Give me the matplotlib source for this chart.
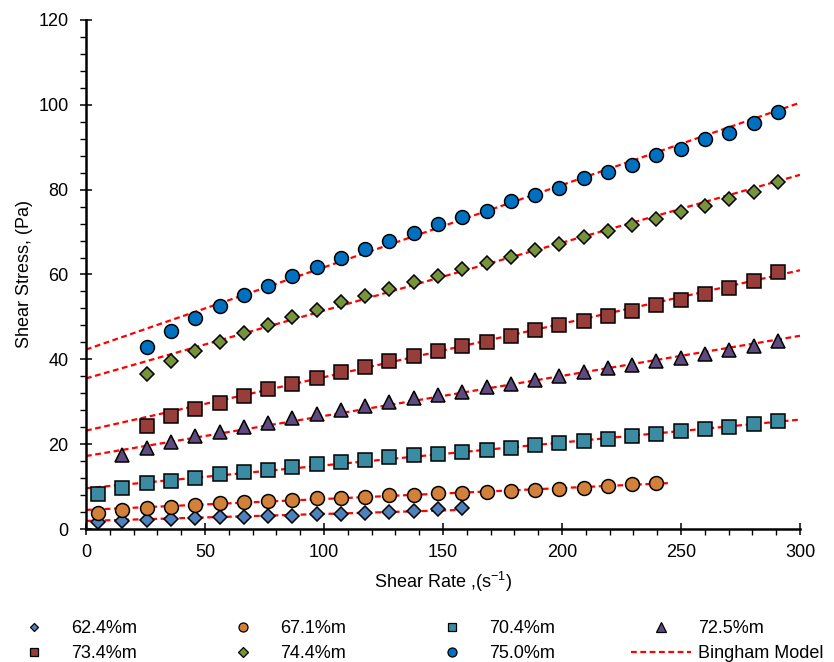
import matplotlib
matplotlib.use("Agg")
import matplotlib.pyplot as plt
from matplotlib.lines import Line2D
from matplotlib.ticker import MultipleLocator

plt.rcParams["font.family"] = ["Liberation Sans", "DejaVu Sans"]
plt.rcParams["mathtext.fontset"] = "custom"
plt.rcParams["mathtext.rm"] = "Liberation Sans"

# shear rates (s^-1)
rates = [5.1, 15.3, 25.5, 35.7, 45.9, 56.1, 66.3, 76.5, 86.7, 96.9,
         107.1, 117.3, 127.5, 137.7, 147.9, 158.1, 168.3, 178.5, 188.7, 198.9,
         209.1, 219.3, 229.5, 239.7, 249.9, 260.1, 270.3, 280.5, 290.7]

# shear stress (Pa) per concentration
s624 = [1.7, 2.0, 2.1, 2.4, 2.5, 2.8, 2.9, 3.1, 3.1, 3.5, 3.5, 3.8, 4.1, 4.2, 4.6, 4.9]
s671 = [3.7, 4.5, 4.9, 5.3, 5.7, 6.1, 6.4, 6.6, 6.8, 7.2, 7.3, 7.6, 7.9, 8.1, 8.4, 8.6,
        8.8, 9.0, 9.2, 9.5, 9.7, 10.1, 10.5, 10.9]
s704 = [8.3, 9.7, 10.8, 11.4, 12.1, 12.9, 13.4, 13.9, 14.7, 15.3, 15.8, 16.3, 16.9, 17.4,
        17.8, 18.1, 18.6, 19.2, 19.7, 20.2, 20.7, 21.3, 21.9, 22.4, 23.0, 23.6, 24.1, 24.8, 25.4]
s725 = [17.4, 19.2, 20.6, 21.9, 22.9, 24.1, 25.1, 26.1, 27.0, 28.1, 29.0, 30.0, 30.8, 31.6,
        32.4, 33.4, 34.3, 35.2, 36.1, 37.0, 37.9, 38.7, 39.5, 40.2, 41.2, 42.2, 43.1, 44.4]
s734 = [24.4, 26.6, 28.2, 29.8, 31.4, 32.9, 34.1, 35.5, 36.9, 38.1, 39.5, 40.8, 42.0, 43.1,
        44.2, 45.5, 46.8, 48.1, 49.1, 50.3, 51.5, 52.8, 54.0, 55.3, 56.8, 58.5, 60.5]
s744 = [36.5, 39.7, 42.0, 44.2, 46.3, 48.1, 49.9, 51.6, 53.4, 54.9, 56.5, 58.2, 59.6, 61.2,
        62.7, 64.1, 65.7, 67.3, 68.8, 70.3, 71.7, 73.1, 74.7, 76.2, 77.9, 79.4, 81.9]
s750 = [42.8, 46.7, 49.8, 52.6, 55.1, 57.4, 59.7, 61.8, 64.0, 66.0, 68.0, 69.9, 71.8, 73.6,
        75.0, 77.3, 78.8, 80.3, 82.7, 84.2, 85.7, 88.1, 89.6, 91.9, 93.4, 95.8, 98.2]

labels = ["62.4%m", "67.1%m", "70.4%m", "72.5%m", "73.4%m", "74.4%m", "75.0%m"]
stresses = [s624, s671, s704, s725, s734, s744, s750]
first_idx = [0, 0, 0, 1, 2, 2, 2]

# Bingham fit: yield stress (Pa), plastic viscosity (Pa.s), fitted range end (s^-1)
yield_stress = [1.9, 4.5, 9.6, 17.2, 23.2, 35.5, 42.3]
plastic_visc = [0.0165, 0.0258, 0.054, 0.0945, 0.126, 0.16, 0.194]
fit_end = [160, 244.5, 300, 300, 300, 300, 300]

markers = ["D", "o", "s", "^", "s", "D", "o"]
msizes = [7, 10, 9.5, 10, 9.5, 7.5, 10]
colors = ["#4F81BD", "#D2803A", "#3B8BA2", "#5E4A80", "#973D3A", "#77933C", "#0070C0"]

fig = plt.figure(figsize=(8.34, 6.62), dpi=100)
ax = fig.add_axes([0.1031, 0.2009, 0.8561, 0.7689])

# model lines first so the markers sit on top
for a, b, xe in zip(yield_stress, plastic_visc, fit_end):
    ax.plot([0, xe], [a, a + b * xe], color="red", lw=1.6, ls=(0, (2.6, 1.6)), zorder=2)

handles = []
for lab, ys, i0, m, ms, c in zip(labels, stresses, first_idx, markers, msizes, colors):
    xs = rates[i0:i0 + len(ys)]
    ax.plot(xs, ys, ls="none", marker=m, ms=ms, mfc=c, mec="black", mew=1.1, zorder=3)
    handles.append(Line2D([], [], ls="none", marker=m, ms=ms * 0.65, mfc=c, mec="black", mew=0.9))
handles.append(Line2D([], [], color="red", lw=1.6, ls=(0, (2.6, 1.6))))
labels_all = labels + ["Bingham Model"]

ax.set_xlim(0, 300)
ax.set_ylim(0, 120)
ax.xaxis.set_major_locator(MultipleLocator(50))
ax.xaxis.set_minor_locator(MultipleLocator(10))
ax.yaxis.set_major_locator(MultipleLocator(20))
ax.yaxis.set_minor_locator(MultipleLocator(4))
ax.tick_params(which="major", direction="inout", length=9, width=1.1, labelsize=13, colors="black")
ax.tick_params(axis="x", which="major", pad=6)
ax.tick_params(axis="y", which="major", pad=8)
ax.tick_params(which="minor", direction="out", length=4, width=1.0)
for side in ["top", "right"]:
    ax.spines[side].set_visible(False)
for side in ["left", "bottom"]:
    ax.spines[side].set_linewidth(1.8)

ax.set_xlabel(r"Shear Rate ,(s$^{\mathregular{-1}}$)", fontsize=13, labelpad=7)
ax.set_ylabel("Shear Stress, (Pa)", fontsize=13, labelpad=4)

# legend: row-wise order in a 4-column layout
order = [0, 4, 1, 5, 2, 6, 3, 7]
fig.legend([handles[k] for k in order], [labels_all[k] for k in order],
           ncol=4, loc="upper left", bbox_to_anchor=(0.005, 0.063), frameon=False,
           fontsize=13, handlelength=3.3, handletextpad=0.4, columnspacing=4.22,
           labelspacing=0.45, borderpad=0, borderaxespad=0)

fig.savefig("out.png", dpi=100)
